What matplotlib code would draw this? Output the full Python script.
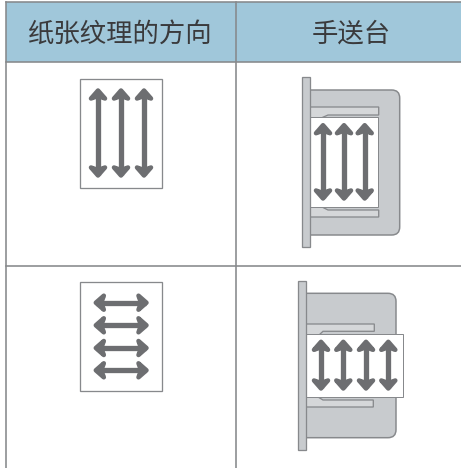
import matplotlib
matplotlib.use('Agg')
import matplotlib.pyplot as plt
from matplotlib.patches import PathPatch, Polygon, Rectangle
from matplotlib.path import Path

plt.rcParams['font.family'] = ['Noto Sans CJK SC', 'DejaVu Sans']

# header text
headers = ['纸张纹理的方向', '手送台']
header_x = [120, 351]

# table grid, in pixels of the 461x468 picture
grid_x = [6, 236]
grid_y = [2, 62, 265.5]
table_right = 461
table_bottom = 468

# left column sheets: x0, x1, y0, y1
sheet_long = [80, 162, 79, 188]
sheet_wide = [80, 162, 281.7, 391]
long_arrow_x = [98, 121, 144]
long_arrow_y = [88, 178]
wide_arrow_y = [302.7, 325.3, 348, 370.3]
wide_arrow_x = [93.3, 149]

# right column, first row
bar1 = [302, 309.5, 77, 247]
tray1 = [309.5, 399.7, 90, 235]
paper1 = [309.5, 377.7, 117, 207]
guide1_top = [(309.5, 107), (378.7, 107), (378.7, 115), (328, 115), (320, 118.5), (309.5, 118.5)]
guide1_bot = [(309.5, 217), (378.7, 217), (378.7, 210), (328, 210), (320, 206), (309.5, 206)]
arrows1_x = [323, 344, 364.7]
arrows1_y = [122.7, 201]

# right column, second row
bar2 = [298.3, 306, 280.7, 450.3]
tray2 = [306, 396, 293.3, 437.7]
paper2 = [306, 403.3, 333.7, 397]
guide2_top = [(306, 324), (374.3, 324), (374.3, 331.3), (323, 331.3), (318, 336), (306, 336)]
guide2_bot = [(306, 407), (373.3, 407), (373.3, 400), (323, 400), (318, 397), (306, 397)]
arrows2_x = [321, 343.3, 366, 388.3]
arrows2_y = [339.3, 391]

line_col = '#87898c'
arrow_col = '#6d6e71'
tray_col = '#c8cbce'
guide_col = '#d5d7d9'
px = 0.72  # one pixel in points at dpi 100

fig = plt.figure(figsize=(4.61, 4.68), dpi=100)
ax = fig.add_axes([0, 0, 1, 1])
ax.set_xlim(0, 461)
ax.set_ylim(468, 0)
ax.axis('off')


def box(b, fc, ec=line_col, lw=1.3, z=2):
    ax.add_patch(Rectangle((b[0], b[2]), b[1] - b[0], b[3] - b[2], fc=fc, ec=ec, lw=lw * px, zorder=z))


def tray(b, r=8):
    x0, x1, y0, y1 = b
    verts = [(x0, y0), (x1 - r, y0), (x1, y0), (x1, y0 + r), (x1, y1 - r), (x1, y1), (x1 - r, y1), (x0, y1), (x0, y0)]
    codes = [Path.MOVETO, Path.LINETO, Path.CURVE3, Path.CURVE3, Path.LINETO, Path.CURVE3, Path.CURVE3, Path.LINETO, Path.CLOSEPOLY]
    ax.add_patch(PathPatch(Path(verts, codes), fc=tray_col, ec=line_col, lw=1.5 * px, zorder=2))


def arrow(x0, y0, x1, y1, back=8, half=7):
    # double headed arrow, filled head with rounded corners
    dx, dy = x1 - x0, y1 - y0
    n = (dx ** 2 + dy ** 2) ** 0.5
    ux, uy = dx / n, dy / n
    nx, ny = -uy, ux
    ax.plot([x0 + ux * 3, x1 - ux * 3], [y0 + uy * 3, y1 - uy * 3], color=arrow_col, lw=5.3 * px, solid_capstyle='butt', zorder=5)
    for tx, ty, vx, vy in [(x0 + ux * 2.5, y0 + uy * 2.5, ux, uy), (x1 - ux * 2.5, y1 - uy * 2.5, -ux, -uy)]:
        head = [(tx + vx * back + s * nx * half, ty + vy * back + s * ny * half) for s in (-1, 1)]
        ax.add_patch(Polygon([(tx, ty), head[1], (tx + vx * 5.5, ty + vy * 5.5), head[0]], closed=True, fc=arrow_col, ec=arrow_col,
                             lw=4.5 * px, joinstyle='round', zorder=5))


# header band
ax.add_patch(Rectangle((grid_x[0], grid_y[0]), table_right - grid_x[0], grid_y[1] - grid_y[0], fc='#a0c7da', ec='none', zorder=1))
for t, x in zip(headers, header_x):
    ax.text(x, 34, t, fontsize=19, color='#3a3a3c', ha='center', va='center', zorder=6)

# grid lines
for x in grid_x:
    ax.plot([x, x], [grid_y[0], table_bottom], color=line_col, lw=1.6 * px, zorder=3)
for y in grid_y:
    ax.plot([grid_x[0], table_right], [y, y], color=line_col, lw=1.6 * px, zorder=3)

# left column
box(sheet_long, 'white')
for x in long_arrow_x:
    arrow(x, long_arrow_y[0], x, long_arrow_y[1])
box(sheet_wide, 'white')
for y in wide_arrow_y:
    arrow(wide_arrow_x[0], y, wide_arrow_x[1], y)

# right column, first row
tray(tray1)
ax.add_patch(Polygon(guide1_top, fc=guide_col, ec=line_col, lw=1.3 * px, zorder=3))
ax.add_patch(Polygon(guide1_bot, fc=guide_col, ec=line_col, lw=1.3 * px, zorder=3))
box(paper1, 'white', z=4, lw=1)
box(bar1, tray_col, z=4)
for x in arrows1_x:
    arrow(x, arrows1_y[0], x, arrows1_y[1])

# right column, second row
tray(tray2)
ax.add_patch(Polygon(guide2_top, fc=guide_col, ec=line_col, lw=1.3 * px, zorder=3))
ax.add_patch(Polygon(guide2_bot, fc=guide_col, ec=line_col, lw=1.3 * px, zorder=3))
box(paper2, 'white', z=4, lw=1)
box(bar2, tray_col, z=4)
for x in arrows2_x:
    arrow(x, arrows2_y[0], x, arrows2_y[1])

fig.savefig('out.png', dpi=100)
